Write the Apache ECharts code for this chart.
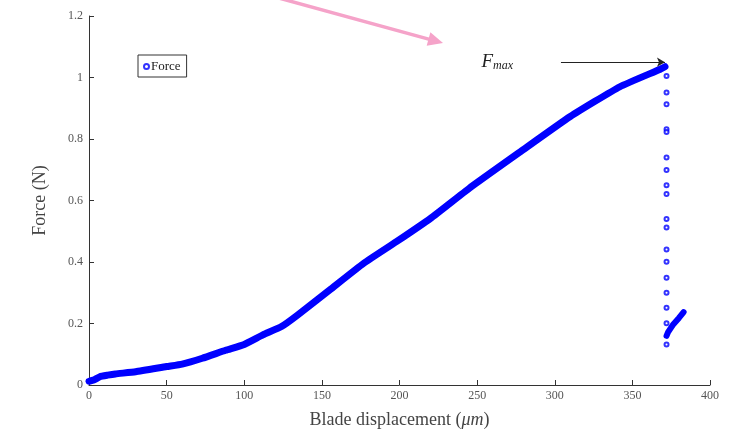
<!DOCTYPE html>
<html>
<head>
<meta charset="utf-8">
<script src="https://cdn.jsdelivr.net/npm/echarts@6/dist/echarts.min.js"></script>
<style>
  html, body { margin: 0; padding: 0; background: #fff; }
  #chart { width: 736px; height: 433px; }
</style>
</head>
<body>
<div id="chart"></div>
<script>
// Loading branch: blade displacement (µm) vs force (N)
const loadX = [0, 3, 7, 12, 17, 30, 50, 60, 73, 88, 100, 112, 124, 134, 155, 177, 198, 220, 245, 278, 310, 342, 368, 371];
const loadY = [0.012, 0.016, 0.027, 0.032, 0.036, 0.043, 0.060, 0.068, 0.087, 0.113, 0.132, 0.163, 0.190, 0.226, 0.309, 0.396, 0.466, 0.542, 0.640, 0.759, 0.873, 0.970, 1.027, 1.035];

// Sparse samples recorded during the sudden force drop
const dropX = [372, 372, 372, 372, 372, 372, 372, 372, 372, 372, 372, 372, 372, 372, 372, 372, 372, 372];
const dropY = [1.005, 0.951, 0.913, 0.832, 0.823, 0.740, 0.699, 0.650, 0.621, 0.540, 0.512, 0.441, 0.401, 0.349, 0.300, 0.251, 0.201, 0.132];

// Reloading tail after the drop
const tailX = [372, 373, 376, 380, 383];
const tailY = [0.160, 0.172, 0.195, 0.218, 0.237];

// Peak force marker
const fmaxArrowX = [304, 371];
const fmaxArrowY = 1.05;
const fmaxLabelAt = [263, 1.05];

const xTicks = { min: 0, max: 400, interval: 50 };
const yTicks = { min: 0, max: 1.2, interval: 0.2 };

const blue = '#0000ff';
const serif = '"Liberation Serif", "DejaVu Serif", serif';

const zip = (xs, ys) => xs.map((x, i) => [x, ys[i]]);

const chart = echarts.init(document.getElementById('chart'), null, { renderer: 'canvas' });

const option = {
  backgroundColor: '#fff',
  animation: false,
  grid: { left: 89, right: 26, top: 16, bottom: 48, containLabel: false, outerBoundsMode: 'none' },
  legend: {
    left: 138, top: 55,
    orient: 'vertical',
    data: [{ name: 'Force', icon: 'emptyCircle' }],
    itemWidth: 5, itemHeight: 5, itemGap: 0,
    padding: [5, 6, 4, 5],
    borderColor: '#333', borderWidth: 1,
    textStyle: { fontFamily: serif, fontSize: 13, color: '#222', padding: [0, 0, 0, -3] }
  },
  xAxis: {
    type: 'value', min: xTicks.min, max: xTicks.max, interval: xTicks.interval,
    name: 'Blade displacement ({i|μm})',
    nameLocation: 'middle', nameGap: 26,
    nameTextStyle: { fontFamily: serif, fontSize: 18, color: '#444',
      rich: { i: { fontFamily: serif, fontSize: 18, fontStyle: 'italic', color: '#444' } } },
    splitLine: { show: false },
    axisLine: { lineStyle: { color: '#333', width: 1 } },
    axisTick: { inside: true, length: 5, lineStyle: { color: '#333' } },
    axisLabel: { fontFamily: serif, fontSize: 12, color: '#555', margin: 5 }
  },
  yAxis: {
    type: 'value', min: yTicks.min, max: yTicks.max, interval: yTicks.interval,
    name: 'Force (N)',
    nameLocation: 'middle', nameGap: 40,
    nameTextStyle: { fontFamily: serif, fontSize: 18, color: '#444' },
    splitLine: { show: false },
    axisLine: { show: true, lineStyle: { color: '#333', width: 1 } },
    axisTick: { show: true, inside: true, length: 5, lineStyle: { color: '#333' } },
    axisLabel: { fontFamily: serif, fontSize: 12, color: '#555', margin: 6 }
  },
  series: [
    {
      name: 'Force', type: 'scatter',
      data: zip(dropX, dropY),
      symbol: 'emptyCircle', symbolSize: 4,
      itemStyle: { color: blue, borderColor: blue, borderWidth: 1.2 },
      z: 3
    },
    {
      name: 'Force', type: 'line',
      data: zip(loadX, loadY),
      showSymbol: false, smooth: 0.15,
      lineStyle: { color: blue, width: 7, cap: 'round', join: 'round' },
      itemStyle: { color: blue },
      z: 2,
      markLine: {
        silent: true, symbol: ['none', 'arrow'], symbolSize: [7, 8],
        lineStyle: { color: '#222', width: 1, type: 'solid' },
        label: { show: false },
        data: [[
          { coord: [fmaxArrowX[0], fmaxArrowY] },
          { coord: [fmaxArrowX[1], fmaxArrowY] }
        ]]
      }
    },
    {
      name: 'Force', type: 'line',
      data: zip(tailX, tailY),
      showSymbol: false,
      lineStyle: { color: blue, width: 6, cap: 'round' },
      itemStyle: { color: blue },
      z: 2
    }
  ]
};

chart.setOption(option);

// Annotation overlay: F_max label and the pink pointer arrow
const labelPx = chart.convertToPixel({ gridIndex: 0 }, fmaxLabelAt);
const tip = [443, 43];
const ang = Math.atan2(43 - 0, 443 - 286);
const headLen = 15, headHalf = 7;
const bx = tip[0] - headLen * Math.cos(ang), by = tip[1] - headLen * Math.sin(ang);
const nx = -Math.sin(ang), ny = Math.cos(ang);

chart.setOption({
  graphic: [
    {
      type: 'text', x: labelPx[0], y: labelPx[1],
      style: {
        text: '{F|F}{s|max}',
        align: 'center', verticalAlign: 'middle',
        rich: {
          F: { fontFamily: serif, fontStyle: 'italic', fontSize: 19, fill: '#222' },
          s: { fontFamily: serif, fontStyle: 'italic', fontSize: 12, fill: '#222', padding: [8, 0, 0, 0] }
        }
      }
    },
    {
      type: 'line',
      shape: { x1: 286 - 20 * Math.cos(ang), y1: 0 - 20 * Math.sin(ang), x2: bx + 2 * Math.cos(ang), y2: by + 2 * Math.sin(ang) },
      style: { stroke: '#f5a3c9', lineWidth: 3.5 }
    },
    {
      type: 'polygon',
      shape: { points: [tip, [bx + nx * headHalf, by + ny * headHalf], [bx - nx * headHalf, by - ny * headHalf]] },
      style: { fill: '#f5a3c9' }
    }
  ]
});
</script>
</body>
</html>
